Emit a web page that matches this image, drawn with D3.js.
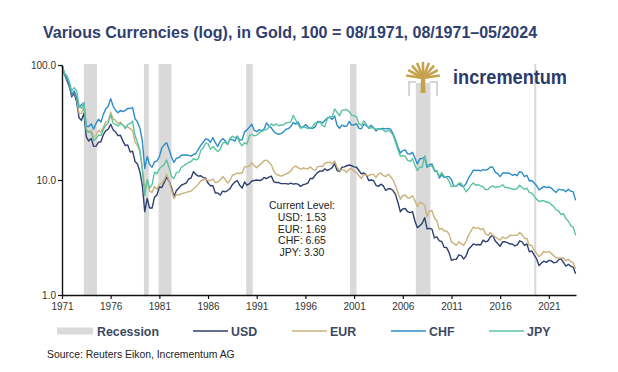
<!DOCTYPE html>
<html>
<head>
<meta charset="utf-8">
<script src="https://cdn.jsdelivr.net/npm/d3@7"></script>
<style>
  body { margin: 0; background: #fff; }
  svg { display: block; font-family: Arial, "Liberation Sans", sans-serif; }
</style>
</head>
<body>
<svg id="chart" width="618" height="372"></svg>
<script>
// quarterly readings, first point = Aug 1971, one row per Aug..May year
const usd = [
  100, 83, 73.5, 65,
  53, 56.7, 48, 34.8,
  33, 38, 23.7, 21.8,
  23, 19.6, 19.7, 21.3,
  21.5, 24.8, 26.9, 27.7,
  30.5, 27.3, 26.1, 24.3,
  24.5, 21.9, 19.9, 20.2,
  17.5, 17.8, 14.5, 13.8,
  11.8, 9.0, 5.3, 6.9,
  5.7, 5.7, 7.1, 7.4,
  8.7, 8.6, 9.5, 10.6,
  9.8, 8.6, 7.2, 8.1,
  8.5, 9.0, 9.2, 9.4,
  10.2, 10.4, 11.8, 11.2,
  10.8, 10.9, 10.5, 10.4,
  9.4, 8.9, 8.9, 7.7,
  7.7, 7.4, 8.0, 7.9,
  8.1, 8.4, 9.1, 9.6,
  9.9, 9.0, 8.5, 9.6,
  9.0, 9.3, 9.8, 9.9,
  10.0, 9.9, 10.0, 10.5,
  10.3, 10.6, 10.8, 9.7,
  9.5, 9.5, 9.3, 9.3,
  9.3, 9.2, 9.4, 9.2,
  9.3, 9.2, 8.8, 9.1,
  9.2, 9.4, 10.3, 10.3,
  11.0, 11.6, 12.0, 11.9,
  12.5, 12.1, 12.4, 12.8,
  13.9, 12.1, 11.8, 12.9,
  13.0, 13.3, 13.5, 13.3,
  13.0, 12.9, 12.1, 11.3,
  11.5, 11.1, 9.9, 10.0,
  9.9, 9.0, 8.8, 9.2,
  8.9, 8.1, 8.4, 8.4,
  8.1, 7.5, 6.4, 5.3,
  5.6, 5.65, 5.3, 5.2,
  5.3, 4.4, 3.85, 4.0,
  4.2, 4.7, 3.76, 3.8,
  3.74, 3.14, 3.2, 2.96,
  2.92, 2.6, 2.58, 2.35,
  2.0, 2.04, 2.04, 2.23,
  2.2, 2.06, 2.18, 2.5,
  2.63, 2.78, 2.73, 2.75,
  2.73, 3.0, 2.9, 2.95,
  3.2, 3.3, 2.95, 2.8,
  2.65, 2.9, 2.9, 2.85,
  2.78, 2.78, 2.67, 2.73,
  2.96, 2.9, 2.7, 2.78,
  2.37, 2.42, 2.22, 2.06,
  1.8, 1.9, 1.97, 1.92,
  2.0, 1.98, 1.91, 1.92,
  2.02, 2.06, 1.92, 1.78,
  1.85, 1.78, 1.75, 1.53
];

const eur = [
  100, 84, 76, 68,
  55, 59, 51, 38,
  38, 43, 27.5, 26,
  27, 23.5, 24.5, 27,
  26, 29, 32, 32.5,
  39, 34, 33, 31,
  32, 30, 29, 29,
  28, 27, 21.5, 20,
  17.5, 13, 8.2, 9.8,
  8.0, 7.8, 8.8, 8.3,
  9.2, 9.3, 10.0, 11.2,
  9.8, 8.2, 6.9, 7.5,
  7.4, 7.6, 7.7, 7.8,
  7.9, 8.0, 8.4, 8.7,
  9.2, 9.8, 10.0, 10.2,
  9.9, 9.9, 10.2, 9.5,
  9.6, 10.0, 10.7, 10.2,
  9.4, 9.9, 11.0, 11.2,
  11.5, 11.4, 11.5, 13.0,
  13.0, 13.3, 14.1, 13.3,
  12.8, 13.4, 14.0, 14.7,
  14.9, 14.3, 13.6, 12.0,
  11.2, 11.0, 10.8, 11.0,
  11.3, 11.5, 12.0, 12.9,
  13.2, 12.8, 12.4, 12.7,
  12.6, 12.5, 13.0, 12.4,
  12.1, 13.0, 13.2, 13.1,
  14.0, 14.2, 14.3, 13.8,
  14.6, 13.0, 12.0, 12.3,
  12.2, 11.6, 12.4, 12.6,
  11.9, 11.6, 10.9, 10.3,
  11.2, 11.0, 10.9, 11.2,
  11.2, 10.5, 11.3, 11.5,
  10.9, 10.7, 11.2, 10.7,
  10.0, 8.9, 7.8, 6.8,
  7.3, 7.4, 7.0, 7.0,
  7.3, 6.6, 5.9, 6.4,
  6.3, 6.0, 4.8, 5.4,
  5.4, 4.7, 4.4, 3.7,
  3.8, 3.6, 3.6, 3.4,
  2.9, 2.8, 2.7, 2.9,
  2.8, 2.7, 2.95, 3.3,
  3.6, 3.9, 3.8, 3.85,
  3.7, 3.8, 3.4, 3.3,
  3.5, 3.3, 3.2, 3.1,
  3.0, 3.2, 3.1, 3.15,
  3.3, 3.3, 3.3, 3.3,
  3.5, 3.35, 3.1, 3.1,
  2.7, 2.7, 2.45, 2.3,
  2.15, 2.25, 2.4, 2.35,
  2.4, 2.3, 2.2, 2.1,
  2.1, 2.1, 2.1, 1.98,
  2.05, 1.95, 1.92, 1.69
];

const chf = [
  100, 84, 76.4, 67.6,
  55, 59.4, 52.7, 43,
  45, 46.9, 29.3, 29.2,
  30.8, 27.7, 31.1, 33.7,
  32, 37.2, 41.7, 43.8,
  51, 44, 40.4, 38.4,
  40.3, 39.3, 40.3, 42,
  41.9, 42.6, 34.1, 32.1,
  28.2, 21.9, 12.6, 16,
  13.6, 12.9, 14.4, 14.6,
  16, 18.9, 20.3, 21.1,
  18.4, 15.8, 14.2, 15.5,
  15.6, 16.4, 16.5, 16.5,
  16.4, 16.1, 16.6, 17,
  18.5, 20, 21.3, 22.8,
  22.5, 21.3, 23.4, 21,
  19.6, 21.7, 22.9, 22,
  20.4, 22.6, 22.5, 21.7,
  24.1, 22.2, 22.4, 26.2,
  27.3, 28.9, 30.5, 27,
  26.3, 27.5, 26.7, 27.7,
  31.3, 29.5, 28.4, 26.4,
  25.4, 25, 25.3, 26.2,
  27.6, 28, 29.2, 31.6,
  30.6, 31.9, 29, 28.8,
  30.3, 29, 28.1, 28.1,
  29, 32.3, 32.2, 31.3,
  32.9, 34.6, 35, 33.7,
  36.1, 29.9, 28.2, 30,
  29.3, 29.5, 32.3, 30,
  30.2, 30.9, 28.1, 27.9,
  30.7, 29.6, 28.5, 29.9,
  28.5, 26.7, 27.8, 28,
  28.1, 27.8, 28.1, 27.7,
  25.2, 22.4, 19.4, 17.2,
  18, 18.3, 16.9, 16.8,
  17.4, 15.5, 13.8, 15.3,
  15.4, 15.7, 12.9, 13.6,
  13.8, 12.2, 12, 10.4,
  11.1, 10.5, 10.7, 10.7,
  10.1, 8.8, 8.8, 9.3,
  8.9, 8.75, 9.3, 10.4,
  11.2, 12.2, 12.1, 12.2,
  12, 12.3, 12.2, 12.4,
  13, 12.9, 11.7, 11.3,
  10.7, 11.5, 11.5, 11.5,
  11.4, 11, 11.2, 10.9,
  11.8, 11.6, 10.7, 11,
  9.8, 9.9, 9.4, 8.9,
  8.2, 8.5, 8.8, 8.6,
  8.7, 8.5, 8.1, 7.8,
  8.3, 8.2, 8.2, 7.9,
  8.3, 8.0, 7.9, 6.65
];

const jpy = [
  100, 84.8, 81.2, 72.3,
  59.3, 63.5, 59.9, 44.3,
  42, 46.6, 27.1, 26.2,
  25.8, 22, 22.9, 24.6,
  24.3, 27.6, 30, 31.2,
  37, 31.2, 30.5, 29.5,
  31, 30.1, 27.9, 30.3,
  31, 32.4, 24.4, 21.3,
  18.2, 12.4, 7.3, 10.1,
  8.5, 9.1, 11.7, 11.3,
  12.5, 13.1, 13.6, 14.9,
  12.8, 10.7, 10.3, 11.6,
  11.7, 12.9, 13.3, 13.8,
  14.2, 14.4, 15.3, 15,
  15.3, 18, 19.1, 20.9,
  20.6, 18.5, 19.6, 18.5,
  17.7, 18.5, 20.9, 21.3,
  20.5, 23, 24, 23.4,
  23.7, 21.2, 19.8, 21.1,
  20.5, 24.3, 25, 24.2,
  24.6, 25.7, 26.3, 27.2,
  27.5, 28.8, 30.8, 29.7,
  30.8, 29.6, 30.1, 30.1,
  31.3, 31.6, 32, 36.5,
  33.3, 30.4, 28.2, 28.7,
  28.7, 28, 28.2, 29.2,
  31.4, 31.3, 32.1, 29.7,
  29.1, 34, 35.7, 35.4,
  41.5, 38.8, 36.2, 40.3,
  40.6, 41.1, 39.2, 36.7,
  36.2, 35.6, 30.7, 30,
  32.6, 30.7, 28, 28.6,
  28.3, 27.8, 28, 27.7,
  27.3, 26.2, 27.2, 26.2,
  24.6, 21.4, 18.4, 16.1,
  16.3, 16.1, 14.8, 14.5,
  15.3, 13.4, 12.1, 13,
  12.9, 16.3, 13.6, 13.2,
  13.3, 11.9, 11.9, 10.8,
  11.6, 10.7, 10.6, 9.8,
  8.75, 8.9, 8.8, 9.4,
  9.4, 8.6, 7.9, 8.3,
  9.0, 9.4, 9.0, 9.1,
  8.9, 8.7, 8.2, 8.3,
  8.7, 8.9, 8.6, 8.7,
  8.8, 9.1, 8.6, 8.6,
  8.5, 8.3, 8.3, 8.4,
  9.0, 8.6, 8.3, 8.5,
  7.8, 7.7, 7.2, 6.8,
  6.5, 6.6, 6.6, 6.4,
  6.4, 6.1, 5.9, 5.5,
  5.4, 5.0, 5.1, 4.6,
  4.4, 4.0, 3.9, 3.3
];

// US recessions [start, end] as decimal years
const recessions = [
  [1973.83, 1975.17], [1980.0, 1980.5], [1981.5, 1982.83], [1990.5, 1991.17],
  [2001.17, 2001.83], [2007.92, 2009.42], [2020.08, 2020.3]
];

const seriesNames = ["USD", "EUR", "CHF", "JPY"];
const seriesColors = ["#2f3f6f", "#c9b27c", "#2a8dc8", "#5cc3a0"];
const seriesData = [usd, eur, chf, jpy];
const currentLevels = ["USD: 1.53", "EUR: 1.69", "CHF: 6.65", "JPY: 3.30"];

const yTickValues = [1, 10, 100];
const xTickYears = [1971, 1976, 1981, 1986, 1991, 1996, 2001, 2006, 2011, 2016, 2021];

const startYear = 1971 + 7 / 12;   // Aug 1971
const endYear = 2024 + 4.5 / 12;   // May 2024

const svg = d3.select("#chart");

const x = d3.scaleLinear().domain([startYear, endYear]).range([62, 576]);
const y = d3.scaleLog().domain([1, 100]).range([295, 65]);

// recession bands
svg.append("g").selectAll("rect")
  .data(recessions)
  .join("rect")
  .attr("x", d => x(d[0]))
  .attr("width", d => x(d[1]) - x(d[0]))
  .attr("y", y(100) - 1)
  .attr("height", y(1) - y(100) + 1)
  .attr("fill", "#d9d9d9");

// lines
const line = d3.line()
  .x((d, i) => x(startYear + i / 4))
  .y(d => y(d));

seriesData.forEach((s, idx) => {
  svg.append("path")
    .datum(s)
    .attr("d", line)
    .attr("fill", "none")
    .attr("stroke", seriesColors[idx])
    .attr("stroke-width", 1.4)
    .attr("stroke-linejoin", "round");
});

// axes
const xAxis = d3.axisBottom(x)
  .tickValues(xTickYears.map(yr => startYear + (yr - 1971)))
  .tickFormat((d, i) => xTickYears[i])
  .tickSize(4)
  .tickSizeOuter(0);

const yAxis = d3.axisLeft(y)
  .tickValues(yTickValues)
  .tickFormat(d3.format(".1f"))
  .tickSize(4)
  .tickSizeOuter(0);

const gx = svg.append("g").attr("transform", "translate(0,295)").call(xAxis);
const gy = svg.append("g").attr("transform", "translate(62,0)").call(yAxis);

[gx, gy].forEach(g => {
  g.select(".domain").attr("stroke", "#111").attr("stroke-width", 1.4);
  g.selectAll(".tick line").attr("stroke", "#111").attr("stroke-width", 1.2);
  g.selectAll(".tick text")
    .attr("fill", "#333")
    .style("font-size", "10px")
    .style("font-family", "Arial, 'Liberation Sans', sans-serif");
});
gx.selectAll(".tick text").attr("dy", "0.9em").attr("y", 6);
gy.selectAll(".tick text").attr("x", -6);

// logo
const logo = svg.append("g");
logo.append("rect").attr("x", 405).attr("y", 56).attr("width", 36).attr("height", 27).attr("fill", "#fff");
logo.append("path")
  .attr("d", "M416,82 H409 V96 M430,82 H437 V96")
  .attr("fill", "none").attr("stroke", "#d5d5d5").attr("stroke-width", 2);
const gold = "#c6a24c";
logo.append("path")
  .attr("d", "M420.5,93 L421,76 L425,76 L425.5,93 Z")
  .attr("fill", gold);
d3.range(9).forEach(k => {
  const a = Math.PI * (1.05 + k * 0.1125);
  const r = 17;
  logo.append("line")
    .attr("x1", 423).attr("y1", 78)
    .attr("x2", 423 + r * Math.cos(a)).attr("y2", 78 + r * Math.sin(a) * 0.95)
    .attr("stroke", gold).attr("stroke-width", 2.6).attr("stroke-linecap", "butt");
});
logo.append("rect").attr("x", 408).attr("y", 59).attr("width", 30).attr("height", 4).attr("fill", "#fff").attr("opacity", 0);
svg.append("text")
  .attr("x", 453).attr("y", 84)
  .attr("fill", "#2c3a6b")
  .style("font-size", "20px").style("font-weight", "bold")
  .attr("textLength", 114).attr("lengthAdjust", "spacingAndGlyphs")
  .text("incrementum");

// current level annotation
const ann = svg.append("text")
  .attr("x", 302).attr("y", 209)
  .attr("text-anchor", "middle")
  .attr("fill", "#222")
  .style("font-size", "10.5px");
["Current Level:"].concat(currentLevels).forEach((t, i) => {
  ann.append("tspan").attr("x", 302).attr("dy", i === 0 ? 0 : 11.8).text(t);
});

// title
svg.append("text")
  .attr("x", 43).attr("y", 38)
  .attr("fill", "#2f4070")
  .style("font-size", "16px").style("font-weight", "bold")
  .text("Various Currencies (log), in Gold, 100 = 08/1971, 08/1971\u201305/2024");

// legend
const legendY = 331;
svg.append("rect").attr("x", 57).attr("y", legendY - 3.5).attr("width", 36).attr("height", 7).attr("fill", "#d9d9d9");
svg.append("text").attr("x", 97).attr("y", legendY + 4.5)
  .attr("fill", "#3c4862").style("font-size", "12.4px").style("font-weight", "bold")
  .text("Recession");
const legendX = [193, 292, 391, 489];
seriesNames.forEach((n, i) => {
  svg.append("line")
    .attr("x1", legendX[i]).attr("x2", legendX[i] + 35)
    .attr("y1", legendY).attr("y2", legendY)
    .attr("stroke", seriesColors[i]).attr("stroke-width", 1.6);
  svg.append("text").attr("x", legendX[i] + 38).attr("y", legendY + 4.5)
    .attr("fill", "#3c4862").style("font-size", "12.4px").style("font-weight", "bold")
    .text(n);
});

// source
svg.append("text")
  .attr("x", 47).attr("y", 358)
  .attr("fill", "#222")
  .style("font-size", "10.4px")
  .text("Source: Reuters Eikon, Incrementum AG");
</script>
</body>
</html>
